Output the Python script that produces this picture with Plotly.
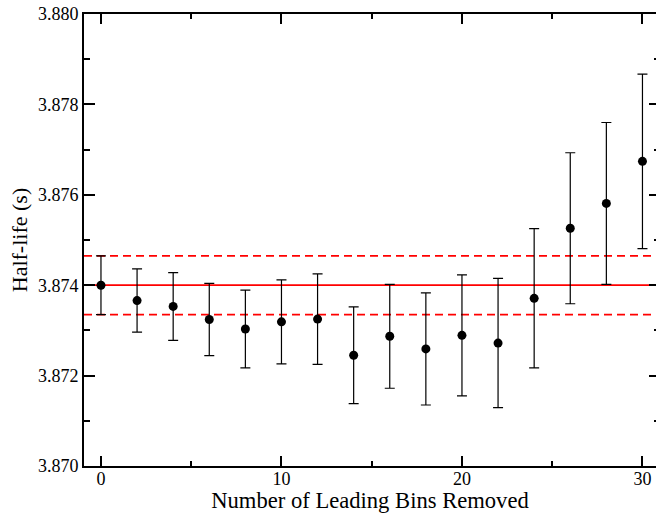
import plotly.graph_objects as go

# Half-life fit results as a function of leading bins removed
bins_removed = [0, 2, 4, 6, 8, 10, 12, 14, 16, 18, 20, 22, 24, 26, 28, 30]
half_life = [3.87400, 3.87366, 3.87353, 3.87324, 3.87303, 3.87319, 3.87325, 3.87245,
             3.87287, 3.87259, 3.87289, 3.87272, 3.87371, 3.87526, 3.87581, 3.87674]
half_life_err = [0.00065, 0.00070, 0.00075, 0.00080, 0.00086, 0.00093, 0.00100, 0.00107,
                 0.00115, 0.00124, 0.00134, 0.00143, 0.00154, 0.00167, 0.00179, 0.00193]

# Reference value (no bins removed) and its uncertainty band
ref_value = 3.874
ref_err = 0.00065

x_ticks = [0, 10, 20, 30]
y_ticks = [3.870, 3.872, 3.874, 3.876, 3.878, 3.880]
y_tick_text = ["3.870", "3.872", "3.874", "3.876", "3.878", "3.880"]

FONT = "Liberation Serif"

fig = go.Figure()

fig.add_trace(go.Scatter(
    x=bins_removed, y=half_life, mode="markers",
    marker=dict(color="black", size=9, symbol="circle"),
    error_y=dict(type="data", array=half_life_err, visible=True,
                 color="black", thickness=1.2, width=5),
    showlegend=False, hoverinfo="x+y",
))

# empty trace carrying the right-hand tick axis
fig.add_trace(go.Scatter(x=[], y=[], yaxis="y2", showlegend=False, hoverinfo="skip"))

fig.add_hline(y=ref_value, line=dict(color="#ff0000", width=1.8), layer="below")
fig.add_hline(y=ref_value + ref_err, line=dict(color="#ff0000", width=1.8, dash="8px,5px"), layer="below")
fig.add_hline(y=ref_value - ref_err, line=dict(color="#ff0000", width=1.8, dash="8px,5px"), layer="below")

fig.update_layout(
    width=656, height=513,
    margin=dict(l=84, r=0, t=14, b=47),
    paper_bgcolor="white", plot_bgcolor="white",
    font=dict(family=FONT, size=18, color="black"),
    xaxis=dict(
        range=[-0.94, 30.75],
        tickvals=x_ticks, ticktext=[str(v) for v in x_ticks],
        ticks="inside", ticklen=10, tickwidth=1.5, tickcolor="black",
        minor=dict(dtick=5, tick0=0, ticks="inside", ticklen=5, tickwidth=1.5, tickcolor="black"),
        showline=True, linewidth=2, linecolor="black", mirror="ticks",
        showgrid=False, zeroline=False,
        tickfont=dict(family=FONT, size=18),
        ticklabelstandoff=-5,
        title=dict(text="Number of Leading Bins Removed", font=dict(family=FONT, size=22.6), standoff=3),
    ),
    yaxis=dict(
        range=[3.870, 3.880],
        tickvals=y_ticks, ticktext=y_tick_text,
        ticks="inside", ticklen=11, tickwidth=1.5, tickcolor="black",
        minor=dict(dtick=0.001, tick0=3.870, ticks="inside", ticklen=6, tickwidth=1.5, tickcolor="black"),
        showline=True, linewidth=2, linecolor="black", mirror=False,
        showgrid=False, zeroline=False,
        tickfont=dict(family=FONT, size=18),
        title=dict(text="Half-life (s)", font=dict(family=FONT, size=22), standoff=4),
    ),
    yaxis2=dict(
        range=[3.870, 3.880], overlaying="y", side="right",
        tickvals=y_ticks, showticklabels=False,
        ticks="inside", ticklen=7, tickwidth=1.5, tickcolor="black",
        minor=dict(dtick=0.001, tick0=3.870, ticks="inside", ticklen=2, tickwidth=1.5, tickcolor="black"),
        showline=False, showgrid=False, zeroline=False,
    ),
)

fig.write_html("out.html")
